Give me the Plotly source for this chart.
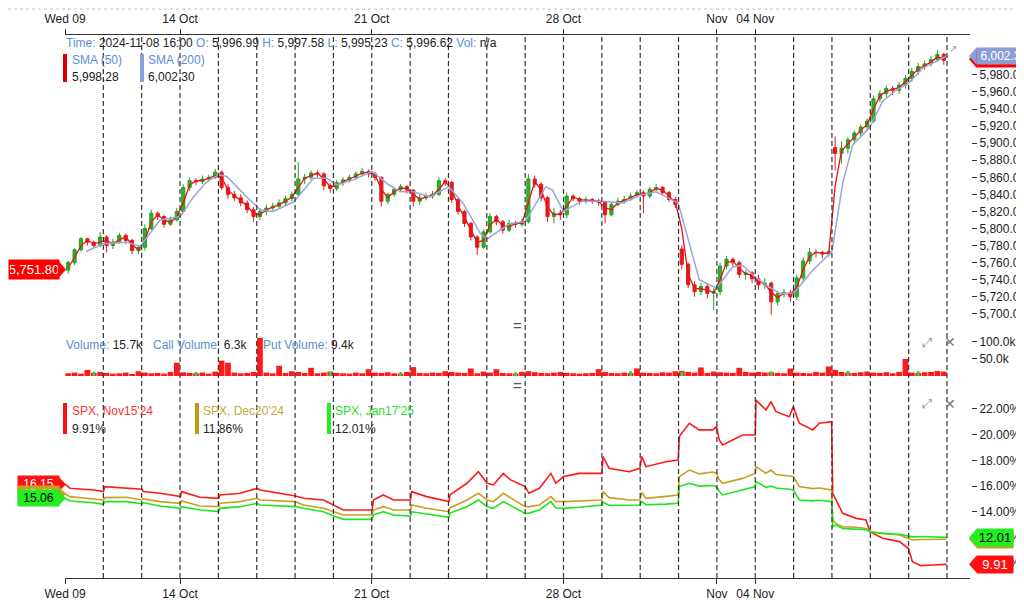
import plotly.graph_objects as go

# the page puts the figure 8px in from the top-left corner, so the figure is
# sized to the remaining window and all layout positions below are screen pixels
OFF = 8
W, H = 1024 - OFF, 600 - OFF
X0, X1, Y0, Y1 = 65, 971, 35, 578          # plot area on screen
BARS_PER_DAY = 6

# colours
lbl = '#5b8fd0'
txt = '#222222'
c_up, c_dn = '#22a022', '#e01b1b'
c_sma50, c_sma200 = '#ee1111', '#97a6dc'
c_nov, c_dec, c_jan = '#ff1a1a', '#c8a020', '#1ee61e'

# ---------------- data ----------------
days = ['Wed 09', '14 Oct', '21 Oct', '28 Oct', 'Nov', '04 Nov']
day_idx = [0, 3, 8, 13, 17, 18]

opens = [
    5751, 5760, 5775, 5788, 5784, 5780,
    5790, 5780, 5784, 5792, 5786, 5774,
    5778, 5800, 5818, 5814, 5805, 5810,
    5820, 5848, 5856, 5855, 5858, 5860,
    5866, 5848, 5840, 5836, 5830, 5822,
    5814, 5820, 5824, 5826, 5830, 5835,
    5840, 5858, 5860, 5865, 5864, 5850,
    5847, 5854, 5857, 5860, 5864, 5867,
    5864, 5860, 5832, 5840, 5846, 5849,
    5845, 5832, 5836, 5838, 5840, 5856,
    5854, 5834, 5820, 5806, 5790, 5778,
    5796, 5814, 5808, 5798, 5806, 5805,
    5808, 5858, 5852, 5836, 5814, 5818,
    5816, 5838, 5835, 5832, 5834, 5832,
    5831, 5816, 5828, 5832, 5834, 5838,
    5842, 5838, 5846, 5848, 5842, 5834,
    5776, 5758, 5734, 5726, 5732, 5724,
    5726, 5756, 5764, 5760, 5746, 5748,
    5741, 5734, 5736, 5714, 5724, 5725,
    5720, 5742, 5762, 5772, 5772, 5770,
    5895, 5888, 5894, 5904, 5912, 5919,
    5926, 5952, 5958, 5964, 5962, 5968,
    5976, 5984, 5990, 5993, 5998, 6004,
]
highs = [
    5762, 5777, 5790, 5789, 5786, 5796,
    5792, 5788, 5795, 5794, 5788, 5780,
    5805, 5822, 5820, 5816, 5814, 5824,
    5852, 5860, 5859, 5862, 5863, 5870,
    5868, 5852, 5844, 5840, 5833, 5825,
    5824, 5828, 5830, 5834, 5838, 5843,
    5878, 5864, 5868, 5868, 5866, 5853,
    5857, 5860, 5863, 5867, 5871, 5869,
    5866, 5861, 5842, 5849, 5852, 5851,
    5846, 5840, 5842, 5844, 5860, 5859,
    5856, 5837, 5822, 5808, 5792, 5799,
    5818, 5816, 5810, 5810, 5809, 5812,
    5864, 5862, 5854, 5838, 5824, 5822,
    5842, 5840, 5837, 5837, 5836, 5835,
    5832, 5831, 5836, 5838, 5842, 5845,
    5845, 5849, 5852, 5850, 5844, 5837,
    5780, 5760, 5738, 5736, 5735, 5730,
    5760, 5768, 5766, 5762, 5751, 5750,
    5746, 5742, 5738, 5727, 5729, 5728,
    5746, 5766, 5777, 5776, 5774, 5776,
    5908, 5902, 5907, 5915, 5922, 5929,
    5956, 5962, 5968, 5967, 5972, 5980,
    5988, 5994, 5997, 6002, 6009, 6006,
]
lows = [
    5747, 5757, 5773, 5780, 5776, 5778,
    5772, 5776, 5782, 5782, 5770, 5770,
    5774, 5798, 5810, 5801, 5803, 5808,
    5818, 5844, 5851, 5852, 5855, 5858,
    5845, 5835, 5832, 5826, 5818, 5808,
    5810, 5816, 5821, 5823, 5827, 5832,
    5838, 5852, 5857, 5860, 5845, 5842,
    5844, 5850, 5854, 5857, 5861, 5860,
    5856, 5826, 5829, 5837, 5843, 5841,
    5826, 5828, 5833, 5835, 5838, 5850,
    5830, 5816, 5802, 5786, 5769, 5776,
    5794, 5804, 5794, 5796, 5801, 5802,
    5806, 5848, 5832, 5808, 5806, 5810,
    5812, 5832, 5828, 5829, 5829, 5827,
    5806, 5814, 5826, 5829, 5832, 5836,
    5818, 5835, 5843, 5839, 5831, 5824,
    5752, 5730, 5720, 5722, 5718, 5704,
    5722, 5752, 5756, 5742, 5740, 5736,
    5728, 5729, 5699, 5710, 5719, 5714,
    5716, 5738, 5758, 5766, 5765, 5767,
    5868, 5876, 5888, 5899, 5908, 5914,
    5924, 5948, 5954, 5956, 5958, 5964,
    5972, 5980, 5986, 5990, 5995, 5992,
]
closes = [
    5760, 5775, 5788, 5784, 5780, 5790,
    5780, 5784, 5792, 5786, 5774, 5778,
    5800, 5818, 5814, 5805, 5810, 5820,
    5848, 5856, 5855, 5858, 5860, 5866,
    5848, 5840, 5836, 5830, 5822, 5814,
    5820, 5824, 5826, 5830, 5835, 5840,
    5858, 5860, 5865, 5864, 5850, 5847,
    5854, 5857, 5860, 5864, 5867, 5864,
    5860, 5832, 5840, 5846, 5849, 5845,
    5832, 5836, 5838, 5840, 5856, 5854,
    5834, 5820, 5806, 5790, 5778, 5796,
    5814, 5808, 5798, 5806, 5805, 5808,
    5858, 5852, 5836, 5814, 5818, 5816,
    5838, 5835, 5832, 5834, 5832, 5831,
    5816, 5828, 5832, 5834, 5838, 5842,
    5838, 5846, 5848, 5842, 5834, 5828,
    5758, 5734, 5726, 5732, 5724, 5726,
    5756, 5764, 5760, 5746, 5748, 5741,
    5734, 5736, 5714, 5724, 5725, 5720,
    5742, 5762, 5772, 5772, 5770, 5773,
    5888, 5894, 5904, 5912, 5919, 5926,
    5952, 5958, 5964, 5962, 5968, 5976,
    5984, 5990, 5993, 5998, 6004, 5997,
]
sma50 = [
    5754, 5766, 5780, 5786, 5782, 5784,
    5786, 5782, 5787, 5790, 5781, 5775,
    5786, 5808, 5816, 5810, 5807, 5814,
    5830, 5851, 5856, 5856, 5859, 5862,
    5860, 5845, 5838, 5833, 5826, 5818,
    5816, 5822, 5825, 5828, 5832, 5837,
    5848, 5859, 5862, 5865, 5858, 5849,
    5850, 5855, 5858, 5862, 5865, 5866,
    5863, 5846, 5836, 5843, 5847, 5847,
    5840, 5834, 5837, 5839, 5846, 5855,
    5846, 5827, 5813, 5798, 5784, 5786,
    5804, 5811, 5803, 5802, 5806, 5806,
    5830, 5855, 5845, 5825, 5816, 5817,
    5826, 5837, 5834, 5833, 5833, 5832,
    5824, 5822, 5830, 5833, 5836, 5840,
    5840, 5842, 5847, 5845, 5838, 5831,
    5800, 5746, 5730, 5729, 5728, 5725,
    5740, 5760, 5762, 5753, 5747, 5745,
    5738, 5735, 5725, 5719, 5724, 5723,
    5731, 5752, 5767, 5772, 5771, 5771,
    5850, 5891, 5899, 5908, 5915, 5922,
    5940, 5955, 5961, 5963, 5965, 5972,
    5980, 5987, 5991, 5995, 6001, 5999,
]
sma200_t = [0.55, 1.0, 1.61, 1.96, 2.48, 3.01, 3.35, 3.7, 4.01, 4.22,
            4.74, 5.09, 5.43, 5.96, 6.48, 6.83, 7.09, 7.52, 8.01, 8.39,
            8.74, 9.09, 9.52, 10.01, 10.39, 10.83, 11.01, 11.35, 11.61, 12.0,
            12.54, 12.71, 13.0, 13.23, 13.5, 14.0, 14.54, 14.99, 15.41, 15.99,
            16.28, 16.54, 16.99, 17.41, 17.67, 18.0, 18.28, 18.63, 19.0, 19.5,
            20.0, 20.28, 20.54, 20.99, 21.32, 21.67, 21.99, 22.37, 23.0]
sma200 = [5773, 5782, 5784, 5779, 5810, 5814, 5837, 5855, 5863, 5861,
          5837, 5822, 5820, 5831, 5859, 5859, 5851, 5857, 5867, 5853,
          5843, 5843, 5837, 5849, 5829, 5794, 5788, 5798, 5806, 5808,
          5849, 5845, 5820, 5826, 5832, 5832, 5830, 5839, 5843, 5830,
          5783, 5740, 5730, 5755, 5757, 5743, 5734, 5724, 5724, 5751,
          5773, 5853, 5898, 5919, 5949, 5962, 5970, 5988, 6002.3]

# volume in thousands (puts dominate the strip, a few call bars poke above)
put_vol = [
    8, 10, 7, 18, 9, 12,
    9, 7, 8, 10, 6, 14,
    10, 8, 9, 7, 12, 39,
    11, 9, 8, 10, 7, 13,
    45, 39, 10, 8, 9, 12,
    112, 10, 8, 30, 9, 14,
    12, 9, 24, 8, 10, 13,
    9, 8, 7, 10, 8, 20,
    10, 9, 11, 8, 7, 12,
    26, 9, 8, 10, 9, 14,
    12, 10, 9, 22, 8, 13,
    10, 20, 9, 8, 7, 12,
    14, 11, 9, 8, 10, 12,
    9, 8, 7, 8, 9, 20,
    12, 9, 8, 10, 9, 22,
    10, 9, 8, 11, 10, 14,
    15, 12, 10, 25, 9, 13,
    11, 10, 9, 24, 12, 10,
    12, 10, 11, 9, 8, 22,
    10, 9, 8, 12, 10, 28,
    18, 12, 10, 9, 11, 13,
    10, 9, 11, 8, 12, 50,
    10, 9, 11, 12, 15, 13,
]
call_slots = [4, 20, 41, 52, 70, 88, 96, 110, 122, 133]
call_vol = [12, 12, 13, 12, 11, 14, 13, 14, 15, 14]

# implied volatility (%) of the three expiries
iv_t = [0, 0.13, 0.74, 1.0, 1.04, 1.61, 2.01, 2.04, 2.48, 3.01,
        3.04, 3.52, 4.01, 4.04, 4.57, 5.01, 5.09, 6.01, 6.22, 6.74,
        7.01, 7.26, 8.01, 8.04, 8.3, 8.57, 9.01, 9.04, 9.43, 10.01,
        10.04, 10.48, 10.78, 11.01, 11.17, 11.43, 11.61, 12.0, 12.1, 12.37,
        12.67, 12.8, 13.0, 13.41, 14.0, 14.03, 14.19, 14.71, 14.99, 15.04,
        15.15, 15.67, 15.99, 16.02, 16.28, 16.54, 16.89, 16.99, 17.06, 17.15,
        17.67, 18.0, 18.02, 18.28, 18.41, 18.54, 18.89, 18.99, 19.15, 19.5,
        19.67, 19.99, 20.02, 20.1, 20.28, 20.63, 20.89, 20.99, 21.32, 21.76,
        21.99, 22.1, 22.32, 22.63, 22.99]
iv_nov = [16.15, 15.83, 15.70, 15.57, 15.96, 15.83, 15.75, 15.57, 15.44, 15.18,
          15.57, 15.13, 15.05, 15.31, 15.44, 15.83, 15.70, 15.23, 15.05, 14.92,
          14.53, 14.14, 14.14, 14.92, 15.31, 14.92, 14.92, 15.57, 15.18, 14.79,
          15.31, 16.22, 17.12, 16.22, 16.09, 16.99, 16.50, 15.96, 15.44, 15.83,
          16.99, 16.22, 16.74, 16.99, 16.99, 18.29, 17.38, 17.12, 17.38, 18.29,
          17.51, 17.90, 18.03, 19.85, 20.89, 20.37, 20.37, 20.63, 19.59, 19.20,
          19.98, 19.98, 22.70, 21.92, 22.57, 21.79, 21.40, 22.18, 20.89, 20.37,
          20.89, 21.01, 15.44, 14.92, 13.88, 13.49, 13.36, 12.45, 11.94, 11.68,
          11.16, 10.12, 9.81, 9.86, 9.91]
iv_dec = [15.40, 15.18, 15.00, 14.92, 15.10, 15.13, 14.92, 15.00, 14.79, 14.66,
          14.85, 14.45, 14.40, 14.66, 14.79, 15.05, 14.92, 14.79, 14.53, 14.27,
          14.01, 13.75, 13.75, 14.14, 14.40, 14.14, 14.14, 14.53, 14.27, 14.01,
          14.30, 14.92, 15.44, 14.92, 14.79, 15.44, 15.10, 14.40, 14.40, 14.53,
          15.18, 14.80, 14.79, 14.85, 14.92, 15.57, 15.10, 14.92, 14.92, 15.50,
          15.05, 15.20, 15.31, 16.74, 17.25, 16.95, 17.10, 16.99, 16.50, 16.22,
          16.60, 16.99, 17.51, 17.00, 17.25, 16.90, 16.80, 16.74, 15.96, 15.80,
          15.85, 15.70, 13.36, 13.10, 12.84, 12.80, 12.70, 12.45, 12.32, 12.20,
          11.94, 11.81, 11.85, 11.88, 11.86]
iv_jan = [15.06, 14.84, 14.70, 14.58, 14.79, 14.79, 14.61, 14.70, 14.45, 14.27,
          14.40, 14.14, 14.01, 14.27, 14.40, 14.66, 14.53, 14.40, 14.27, 14.01,
          13.67, 13.41, 13.41, 13.75, 14.01, 13.75, 13.67, 14.00, 13.83, 13.57,
          13.90, 14.40, 14.92, 14.40, 14.27, 14.79, 14.50, 13.88, 13.90, 14.14,
          14.79, 14.30, 14.27, 14.35, 14.53, 14.75, 14.50, 14.50, 14.53, 14.80,
          14.55, 14.60, 14.66, 15.96, 16.22, 16.00, 16.05, 15.96, 15.60, 15.31,
          15.70, 15.96, 16.35, 15.90, 16.00, 15.85, 15.75, 15.70, 14.92, 14.85,
          14.90, 14.79, 12.84, 12.97, 12.71, 12.65, 12.60, 12.45, 12.32, 12.25,
          12.12, 12.05, 12.08, 12.06, 12.01]

# legend readouts
info = [('Time:', '2024-11-08 16:00'), ('O:', '5,996.99'), ('H:', '5,997.58'),
        ('L:', '5,995.23'), ('C:', '5,996.62'), ('Vol:', 'n/a')]
price_first = 5751.80
sma50_last, sma200_last = 5998.28, 6002.30
vol_info = [('Volume:', '15.7k'), ('Call Volume:', '6.3k'), ('Put Volume:', '9.4k')]
iv_names = ["SPX, Nov15'24", "SPX, Dec20'24", "SPX, Jan17'25"]


# ---------------- helpers ----------------
def px(x):
    # screen x -> paper fraction
    return (x - X0) / (X1 - X0)


def py(y):
    # screen y -> paper fraction
    return (Y1 - y) / (Y1 - Y0)


FONT = 'Liberation Sans, Arial, sans-serif'
bar_t = [(i + 0.5) / BARS_PER_DAY for i in range(len(closes))]
n_days = len(closes) // BARS_PER_DAY

fig = go.Figure()

fig.add_trace(go.Candlestick(
    x=bar_t, open=opens, high=highs, low=lows, close=closes,
    increasing=dict(line=dict(color=c_up, width=1), fillcolor='#2cb52c'),
    decreasing=dict(line=dict(color=c_dn, width=1), fillcolor=c_dn),
    whiskerwidth=0, xaxis='x', yaxis='y', showlegend=False, hoverinfo='skip'))
fig.add_trace(go.Scatter(x=bar_t, y=sma50, mode='lines', line=dict(color=c_sma50, width=1.3),
                         xaxis='x', yaxis='y', showlegend=False, hoverinfo='skip'))
fig.add_trace(go.Scatter(x=sma200_t, y=sma200, mode='lines', line=dict(color=c_sma200, width=1.5),
                         xaxis='x', yaxis='y', showlegend=False, hoverinfo='skip'))
# dummy trace so the top axis is drawn
fig.add_trace(go.Scatter(x=[0], y=[5800], mode='markers', marker=dict(opacity=0),
                         xaxis='x2', yaxis='y', showlegend=False, hoverinfo='skip'))

fig.add_trace(go.Bar(x=bar_t, y=put_vol, marker=dict(color='#ff1a1a', line_width=0), width=0.15,
                     xaxis='x', yaxis='y2', showlegend=False, hoverinfo='skip'))
fig.add_trace(go.Bar(x=[bar_t[i] for i in call_slots], y=call_vol,
                     marker=dict(color='#33d633', line_width=0), width=0.07,
                     xaxis='x', yaxis='y2', showlegend=False, hoverinfo='skip'))

for vals, col in [(iv_nov, c_nov), (iv_dec, c_dec), (iv_jan, c_jan)]:
    fig.add_trace(go.Scatter(x=iv_t, y=vals, mode='lines', line=dict(color=col, width=1.6),
                             xaxis='x', yaxis='y3', showlegend=False, hoverinfo='skip'))

x_rng = [0, 23.6]
xdom = [0, px(970)]
axis_common = dict(range=x_rng, domain=xdom, tickvals=day_idx, ticktext=days, automargin=False,
                   showgrid=False, zeroline=False, showline=True, linecolor='#333',
                   linewidth=1, ticks='outside', ticklen=5, tickcolor='#333',
                   tickfont=dict(size=12, color=txt, family=FONT))
ycommon = dict(side='right', anchor='free', position=1.0, showgrid=False, zeroline=False,
               showline=False, ticks='outside', ticklen=5, tickcolor='#333', automargin=False,
               tickfont=dict(size=12, color=txt, family=FONT))

fig.update_layout(
    width=W, height=H,
    margin=dict(l=X0 - OFF, r=W - (X1 - OFF), t=Y0 - OFF, b=H - (Y1 - OFF), autoexpand=False),
    paper_bgcolor='white', plot_bgcolor='white',
    barmode='overlay', hovermode=False, showlegend=False,
    font=dict(family=FONT, size=12, color=txt),
    xaxis=dict(anchor='y3', rangeslider=dict(visible=False), ticklabelstandoff=0, **axis_common),
    xaxis2=dict(anchor='y', side='top', overlaying='x', ticklabelstandoff=1, **axis_common),
    yaxis=dict(domain=[py(322), 1], range=[5690.4, 6026.8],
               tickvals=list(range(5700, 6001, 20)), tickformat=',.2f', **ycommon),
    yaxis2=dict(domain=[py(376), py(330)], range=[0, 135],
                tickvals=[50, 100], ticktext=['50.0k', '100.0k'], **ycommon),
    yaxis3=dict(domain=[0, py(392)], range=[8.85, 23.32],
                tickvals=list(range(10, 23, 2)),
                ticktext=['%.2f%%' % v for v in range(10, 23, 2)], **ycommon),
)

shapes = []
# day separators
for d in range(1, n_days + 1):
    shapes.append(dict(type='line', xref='x', yref='paper', x0=d, x1=d, y0=0, y1=1,
                       line=dict(color='#333', width=1.2, dash='5px,3px')))
# dotted strip along the top edge
shapes.append(dict(type='line', xref='paper', yref='paper', x0=px(OFF), x1=px(1024), y0=py(9), y1=py(9),
                   line=dict(color='#c4c4c4', width=1, dash='dot')))
# legend colour bars
for x0, x1, y0, y1, col in [(63, 67, 54, 82, '#dd0000'), (140, 144, 54, 82, '#8d9fd8'),
                            (63, 67, 403, 434, '#ff1010'), (195, 199, 403, 434, '#c09a18'),
                            (327, 331, 403, 434, '#22ee22')]:
    shapes.append(dict(type='rect', xref='paper', yref='paper', x0=px(x0), x1=px(x1),
                       y0=py(y1), y1=py(y0), fillcolor=col, line_width=0, layer='above'))


def pointer(yval, yref, col, side, half):
    # little arrow head joining a value tag to the axis
    if side == 'right':
        path = 'M0,0 L7,%d L8,%d L8,-%d L7,-%d Z' % (half, half, half, half)
        xa = px(969)
    else:
        path = 'M0,0 L-8,%d L-9,%d L-9,-%d L-8,-%d Z' % (half, half, half, half)
        xa = px(66)
    return dict(type='path', xref='paper', yref=yref, xsizemode='pixel', ysizemode='pixel',
                xanchor=xa, yanchor=yval, path=path, fillcolor=col, line_width=0, layer='above')


tags = [
    # value, yref, bg, fg, side, x_left_px, width, height, label, font size
    (price_first, 'y', '#ff0000', 'white', 'left', 8, 48, 17, '{:,.2f}'.format(price_first), 13),
    (iv_nov[0], 'y3', '#ff1010', 'white', 'left', 17, 39, 14, '%.2f' % iv_nov[0], 12),
    (iv_dec[0], 'y3', '#c8a020', 'white', 'left', 17, 39, 14, '%.2f' % iv_dec[0], 12),
    (iv_jan[0], 'y3', '#22ee22', 'black', 'left', 17, 39, 14, '%.2f' % iv_jan[0], 12),
    (sma50_last, 'y', '#ff0000', 'white', 'right', 976, 52, 14, '{:,.2f}'.format(sma50_last), 12),
    (sma200_last, 'y', '#8a9dd6', 'white', 'right', 976, 52, 14, '{:,.2f}'.format(sma200_last), 12),
    (iv_dec[-1], 'y3', '#c8a020', 'black', 'right', 976, 34, 15, '%.2f' % iv_dec[-1], 13),
    (iv_jan[-1], 'y3', '#22ee22', 'black', 'right', 976, 34, 15, '%.2f' % iv_jan[-1], 13),
    (iv_nov[-1], 'y3', '#ff1010', 'white', 'right', 976, 34, 15, '%.2f' % iv_nov[-1], 13),
]
annotations = []
for val, yref, bg, fg, side, xl, wd, ht, label, fs in tags:
    shapes.append(pointer(val, yref, bg, side, ht // 2 + 1))
    annotations.append(dict(xref='paper', yref=yref, x=px(xl), y=val, xanchor='left', yanchor='middle',
                            text=label, showarrow=False, bgcolor=bg, width=wd, height=ht, borderpad=1,
                            align='center', font=dict(size=fs, color=fg, family=FONT)))

fig.update_layout(shapes=shapes)


def note(x, y, text, size=12, color=txt, xanchor='left'):
    annotations.append(dict(xref='paper', yref='paper', x=px(x), y=py(y), xanchor=xanchor,
                            yanchor='middle', text=text, showarrow=False,
                            font=dict(size=size, color=color, family=FONT)))


info_txt = ' '.join("<span style='color:%s'>%s</span> %s" % (lbl, k, v) for k, v in info)
note(64, 43, info_txt)
note(70, 60, 'SMA (50)', color=lbl)
note(70, 77, '{:,.2f}'.format(sma50_last))
note(146, 60, 'SMA (200)', color=lbl)
note(146, 77, '{:,.2f}'.format(sma200_last))

vx = [64, 151, 261]
for (k, v), x in zip(vol_info, vx):
    note(x, 345, "<span style='color:%s'>%s</span> %s" % (lbl, k, v))

iv_last = [iv_nov[-1], iv_dec[-1], iv_jan[-1]]
for name, val, x, col in zip(iv_names, iv_last, [70, 201, 333], ['#ff3030', '#c8a83a', '#2adf2a']):
    note(x, 411, name, color=col)
    note(x, 429, '%.2f%%' % val)

# panel controls
for y in [342, 404]:
    note(927, y, '⤢', size=13, color='#999', xanchor='center')
    note(950, y, '✕', size=14, color='#777', xanchor='center')
note(953, 48, '↗', size=10, color='#999', xanchor='center')
note(517, 325, '=', size=15, color='#555', xanchor='center')
note(517, 385, '=', size=15, color='#555', xanchor='center')

fig.update_layout(annotations=annotations)
fig.write_html('out.html')
